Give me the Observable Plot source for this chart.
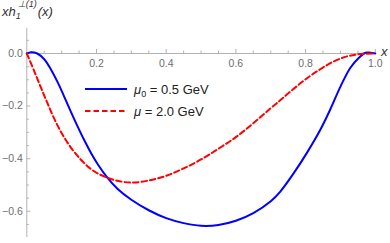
<!DOCTYPE html>
<html><head><meta charset="utf-8">
<script src="https://cdn.jsdelivr.net/npm/d3@7"></script>
<script src="https://cdn.jsdelivr.net/npm/@observablehq/plot@0.6"></script>
<style>body{margin:0;background:#fff} svg{display:block}</style>
</head><body><div id="chart"></div>
<script>
// mu0 = 0.5 GeV (blue, solid)
const blueX = [0, 0.012, 0.03, 0.05, 0.068, 0.088, 0.106, 0.125, 0.145, 0.165, 0.185, 0.205, 0.231, 0.26, 0.30, 0.35, 0.40, 0.45, 0.50, 0.55, 0.60, 0.65, 0.70, 0.728, 0.766, 0.805, 0.843, 0.871, 0.90, 0.928, 0.953, 0.972, 0.986, 1.0];
const blueY = [0, 0.005, 0.0, -0.022, -0.058, -0.108, -0.160, -0.217, -0.275, -0.330, -0.380, -0.424, -0.472, -0.514, -0.556, -0.596, -0.626, -0.645, -0.655, -0.652, -0.636, -0.607, -0.562, -0.524, -0.455, -0.375, -0.288, -0.212, -0.126, -0.055, -0.016, 0.003, 0.003, 0];
// mu = 2.0 GeV (red, dashed)
const redX = [0, 0.021, 0.04, 0.059, 0.077, 0.101, 0.125, 0.154, 0.18, 0.205, 0.231, 0.26, 0.30, 0.35, 0.40, 0.45, 0.50, 0.55, 0.60, 0.65, 0.70, 0.728, 0.766, 0.805, 0.843, 0.881, 0.919, 0.957, 1.0];
const redY = [0, -0.066, -0.128, -0.188, -0.243, -0.305, -0.355, -0.402, -0.435, -0.457, -0.472, -0.484, -0.491, -0.483, -0.465, -0.437, -0.403, -0.362, -0.318, -0.265, -0.208, -0.177, -0.134, -0.093, -0.059, -0.030, -0.011, -0.002, 0];

const xMajor = [0.2, 0.4, 0.6, 0.8, 1.0];
const xLabels = ["0.2", "0.4", "0.6", "0.8", "1.0"];
const xMinor = [0.05, 0.1, 0.15, 0.25, 0.3, 0.35, 0.45, 0.5, 0.55, 0.65, 0.7, 0.75, 0.85, 0.9, 0.95];
const yMajor = [0, -0.2, -0.4, -0.6];
const yLabels = ["0.0", "\u22120.2", "\u22120.4", "\u22120.6"];
const yMinor = [0.05, -0.05, -0.1, -0.15, -0.25, -0.3, -0.35, -0.45, -0.5, -0.55, -0.65];

const blue = blueX.map((x, i) => ({x, y: blueY[i]}));
const red = redX.map((x, i) => ({x, y: redY[i]}));

const W = 390, H = 243;
const mL = 26.3, mR = 15.2, mT = 28, mB = 5.9;
const yDom = [-0.70, 0.095];
const pxPerY = (H - mT - mB) / (yDom[1] - yDom[0]);
const pxPerX = (W - mL - mR) / 1;
const axisColor = "#b3b3b3";
const labelColor = "#6e6e6e";

const plot = Plot.plot({
  width: W, height: H,
  marginLeft: mL, marginRight: mR, marginTop: mT, marginBottom: mB,
  x: {domain: [0, 1], axis: null},
  y: {domain: yDom, axis: null},
  style: {fontFamily: "'Liberation Sans', Arial, sans-serif", background: "#fff"},
  marks: [
    Plot.ruleY([0], {x1: 0, x2: 1, stroke: axisColor, strokeWidth: 1}),
    Plot.ruleX([0], {y1: yDom[0], y2: yDom[1], stroke: axisColor, strokeWidth: 1}),
    Plot.ruleX(xMajor, {x: d => d, y1: 0, y2: 4 / pxPerY, stroke: axisColor}),
    Plot.ruleX(xMinor, {x: d => d, y1: 0, y2: 2.5 / pxPerY, stroke: axisColor}),
    Plot.ruleY(yMajor, {y: d => d, x1: 0, x2: 4 / pxPerX, stroke: axisColor}),
    Plot.ruleY(yMinor, {y: d => d, x1: 0, x2: 2.5 / pxPerX, stroke: axisColor}),
    Plot.text(xMajor, {x: d => d, y: 0, dy: 10, text: (d, i) => xLabels[i], fill: labelColor, fontSize: 10.5}),
    Plot.text(yMajor, {x: 0, y: d => d, dx: -4, textAnchor: "end", text: (d, i) => yLabels[i], fill: labelColor, fontSize: 10.5}),
    Plot.line(blue, {x: "x", y: "y", stroke: "#0000ff", strokeWidth: 2, curve: "catmull-rom"}),
    Plot.line(red, {x: "x", y: "y", stroke: "#ff0000", strokeWidth: 2, strokeDasharray: "5.5,3", curve: "catmull-rom"}),
    Plot.text(["x"], {x: 1, y: 0, dx: 9, dy: -2, text: d => d, fontSize: 13, fontStyle: "italic", fill: "#333"})
  ]
});

const svg = d3.select(plot);
// title
const t = svg.append("text").attr("x", 2).attr("y", 16).attr("font-size", 13)
  .attr("text-anchor", "start").attr("font-style", "italic").attr("fill", "#333");
t.append("tspan").text("xh");
t.append("tspan").attr("font-size", 9).attr("dy", 3).text("1");
t.append("tspan").attr("font-size", 9).attr("dx", -3).attr("dy", -12).text("\u22a5(1)");
t.append("tspan").attr("font-size", 13).attr("dx", 1).attr("dy", 9).text("(x)");

// legend
const lg = svg.append("g").attr("font-size", 13).attr("fill", "#222").attr("text-anchor", "start");
const rows = [
  {stroke: "#0000ff", dash: null, y: 89, sym: "\u03bc", sub: "0", rest: " = 0.5 GeV"},
  {stroke: "#ff0000", dash: "5.5,3", y: 111, sym: "\u03bc", sub: "", rest: " = 2.0 GeV"}
];
rows.forEach(r => {
  const l = lg.append("line").attr("x1", 85).attr("x2", 127).attr("y1", r.y).attr("y2", r.y)
    .attr("stroke", r.stroke).attr("stroke-width", 2);
  if (r.dash) l.attr("stroke-dasharray", r.dash);
  const tx = lg.append("text").attr("x", 134).attr("y", r.y + 4.5);
  tx.append("tspan").attr("font-style", "italic").text(r.sym);
  if (r.sub) {
    tx.append("tspan").attr("font-size", 9).attr("dy", 3).text(r.sub);
    tx.append("tspan").attr("dy", -3).text(r.rest);
  } else {
    tx.append("tspan").text(r.rest);
  }
});

document.getElementById("chart").appendChild(plot);
</script>
</body></html>
